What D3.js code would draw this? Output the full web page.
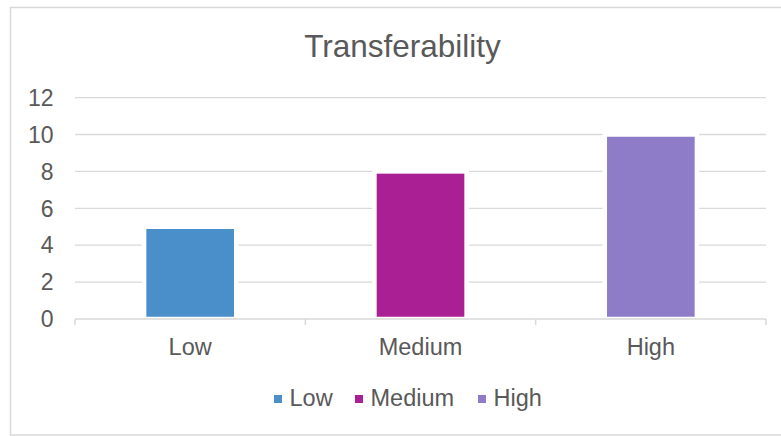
<!DOCTYPE html>
<html>
<head>
<meta charset="utf-8">
<script src="https://cdn.jsdelivr.net/npm/d3@7"></script>
<style>
  body { margin: 0; background: #fff; }
  svg { display: block; font-family: "Liberation Sans", Arial, sans-serif; }
</style>
</head>
<body>
<svg id="chart" width="781" height="436"></svg>
<script>
var categories = ["Low", "Medium", "High"];
var values = [5, 8, 10];
var colors = ["#4a8fca", "#ab1f94", "#8e7cc9"];
var yTicks = [0, 2, 4, 6, 8, 10, 12];
var title = "Transferability";

var svg = d3.select("#chart"),
    plot = {left: 75, right: 766, top: 97.6, bottom: 319};

// chart frame
svg.append("rect")
    .attr("x", 10.5).attr("y", 7.5)
    .attr("width", 800).attr("height", 427.5)
    .attr("fill", "#fff")
    .attr("stroke", "#d9d9d9")
    .attr("stroke-width", 1.5);

var x = d3.scaleBand()
    .domain(categories)
    .range([plot.left, plot.right])
    .paddingInner(0.6)
    .paddingOuter(0.3);

var y = d3.scaleLinear()
    .domain([0, 12])
    .range([plot.bottom, plot.top]);

var z = d3.scaleOrdinal().domain(categories).range(colors);

svg.append("text")
    .attr("x", 402.5)
    .attr("y", 57)
    .attr("text-anchor", "middle")
    .attr("font-size", 31.5)
    .attr("fill", "#595959")
    .text(title);

// gridlines
svg.append("g")
  .selectAll("line")
  .data(yTicks.filter(function(d) { return d > 0; }))
  .enter().append("line")
    .attr("x1", plot.left).attr("x2", plot.right)
    .attr("y1", function(d) { return y(d); })
    .attr("y2", function(d) { return y(d); })
    .attr("stroke", "#d9d9d9")
    .attr("stroke-width", 1.3);

// y labels
svg.append("g")
  .selectAll("text")
  .data(yTicks)
  .enter().append("text")
    .attr("x", 53.5)
    .attr("y", function(d) { return y(d); })
    .attr("dy", "0.36em")
    .attr("text-anchor", "end")
    .attr("font-size", 23)
    .attr("fill", "#595959")
    .text(function(d) { return d; });

// bars
svg.append("g")
  .selectAll("rect")
  .data(categories)
  .enter().append("rect")
    .attr("x", function(d) { return x(d); })
    .attr("y", function(d, i) { return y(values[i]); })
    .attr("width", x.bandwidth())
    .attr("height", function(d, i) { return y(0) - y(values[i]); })
    .attr("fill", function(d) { return z(d); })
    .attr("stroke", "#fff")
    .attr("stroke-width", 4.5);

// x axis line + boundary ticks
var gap = (x.step() - x.bandwidth()) / 2;
var bounds = categories.map(function(d) { return x(d) - gap; });
bounds.push(plot.right);

svg.append("line")
    .attr("x1", plot.left).attr("x2", plot.right)
    .attr("y1", y(0)).attr("y2", y(0))
    .attr("stroke", "#d9d9d9")
    .attr("stroke-width", 1.5);

svg.append("g")
  .selectAll("line")
  .data(bounds)
  .enter().append("line")
    .attr("x1", function(d) { return d; })
    .attr("x2", function(d) { return d; })
    .attr("y1", y(0)).attr("y2", y(0) + 6)
    .attr("stroke", "#d9d9d9")
    .attr("stroke-width", 1.5);

svg.append("g")
  .selectAll("text")
  .data(categories)
  .enter().append("text")
    .attr("x", function(d) { return x(d) + x.bandwidth() / 2; })
    .attr("y", 355)
    .attr("text-anchor", "middle")
    .attr("font-size", 23.5)
    .attr("fill", "#595959")
    .text(function(d) { return d; });

// legend
var legendX = [274, 355, 478];
var legend = svg.append("g")
  .selectAll("g")
  .data(categories)
  .enter().append("g")
    .attr("transform", function(d, i) { return "translate(" + legendX[i] + ",395)"; });

legend.append("rect")
    .attr("width", 8).attr("height", 8)
    .attr("fill", function(d) { return z(d); });

legend.append("text")
    .attr("x", 15.5)
    .attr("y", 11)
    .attr("font-size", 23.5)
    .attr("fill", "#595959")
    .text(function(d) { return d; });
</script>
</body>
</html>
